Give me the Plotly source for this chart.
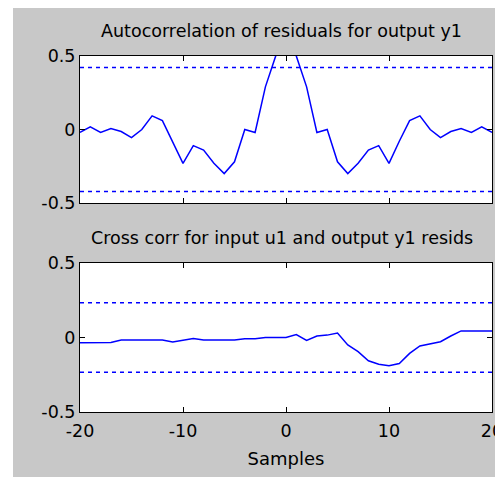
import plotly.graph_objects as go
from plotly.subplots import make_subplots

lags = list(range(-20, 21))
autocorr_y1 = [-0.02, 0.018, -0.02, 0.007, -0.014, -0.055, 0.0, 0.093, 0.06, -0.08,
               -0.23, -0.11, -0.14, -0.23, -0.30, -0.22, 0.0, -0.02, 0.29, 0.50,
               1.0,
               0.50, 0.29, -0.02, 0.0, -0.22, -0.30, -0.23, -0.14, -0.11, -0.23,
               -0.08, 0.06, 0.093, 0.0, -0.055, -0.014, 0.007, -0.02, 0.018, -0.02]
crosscorr_u1y1 = [-0.035, -0.035, -0.035, -0.033, -0.017, -0.017, -0.017, -0.017, -0.017, -0.03,
                  -0.017, -0.006, -0.017, -0.017, -0.017, -0.017, -0.008, -0.008, 0.0, 0.0,
                  0.0,
                  0.02, -0.02, 0.01, 0.016, 0.03, -0.05, -0.095, -0.156, -0.18, -0.19,
                  -0.175, -0.107, -0.057, -0.04, -0.028, 0.01, 0.044, 0.044, 0.044, 0.044]
conf_auto = 0.422
conf_cross = 0.233
titles = ["Autocorrelation of residuals for output y1",
          "Cross corr for input u1 and output y1 resids"]
x_ticks = [-20, -10, 0, 10, 20]
x_ticklabels = ["-20", "-10", "0", "10", "20"]
y_ticks = [-0.5, 0, 0.5]
y_ticklabels = ["-0.5", "0", "0.5"]

BLUE = "#0000FF"
GRAY = "#C8C8C8"
FONT = "DejaVu Sans"

# the page body has an 8px margin, so the figure is laid out 8px in from the window corner
W, H = 495, 469
L, R, T, B = 72, 11, 48, 65
pw = W - L - R
ph = H - T - B
top_dom = [(404 - 195) / ph, 1.0]
bot_dom = [0.0, (404 - 255) / ph]


def px_x(p):
    return (p - L) / pw


def px_y(p):
    return 1 + (T - p) / ph


fig = make_subplots(rows=2, cols=1)
series = [(autocorr_y1, conf_auto), (crosscorr_u1y1, conf_cross)]
for i, (vals, conf) in enumerate(series, start=1):
    fig.add_trace(go.Scatter(x=lags, y=vals, mode="lines",
                             line=dict(color=BLUE, width=1.5), showlegend=False), row=i, col=1)
    for c in (conf, -conf):
        fig.add_trace(go.Scatter(x=[lags[0], lags[-1]], y=[c, c], mode="lines",
                                 line=dict(color=BLUE, width=1.5, dash="4px,4px"),
                                 showlegend=False), row=i, col=1)

axis_common = dict(showline=True, linecolor="black", linewidth=1, mirror="ticks",
                   ticks="inside", ticklen=5, tickcolor="black", showgrid=False,
                   zeroline=False, automargin=False, ticklabeloverflow="allow",
                   tickfont=dict(family=FONT, size=17.5, color="black"))
fig.update_xaxes(range=[-20, 20], tickvals=x_ticks, ticktext=x_ticklabels,
                 ticklabelstandoff=3, **axis_common)
fig.update_yaxes(range=[-0.5, 0.5], tickvals=y_ticks, ticktext=y_ticklabels, **axis_common)
fig.update_xaxes(showticklabels=False, row=1, col=1)
fig.update_xaxes(title=dict(text="Samples", font=dict(family=FONT, size=18, color="black"),
                            standoff=12), row=2, col=1)
fig.update_layout(yaxis=dict(domain=top_dom), yaxis2=dict(domain=bot_dom),
                  xaxis=dict(anchor="y"), xaxis2=dict(anchor="y2"))

ann = []
for title, dom in zip(titles, [top_dom, bot_dom]):
    ann.append(dict(text=title, x=0.49, xref="paper", xanchor="center",
                    y=dom[1], yref="paper", yanchor="middle", yshift=25, showarrow=False,
                    font=dict(family=FONT, size=17.5, color="black")))

shapes = [
    dict(type="rect", xref="paper", yref="paper", x0=px_x(0), x1=px_x(5),
         y0=px_y(H), y1=px_y(0), fillcolor="white", line=dict(width=0), layer="above"),
]
fig.update_layout(width=W, height=H, margin=dict(l=L, r=R, t=T, b=B),
                  paper_bgcolor=GRAY, plot_bgcolor="white",
                  annotations=ann, shapes=shapes,
                  font=dict(family=FONT, color="black"))
fig.write_html("out.html")
